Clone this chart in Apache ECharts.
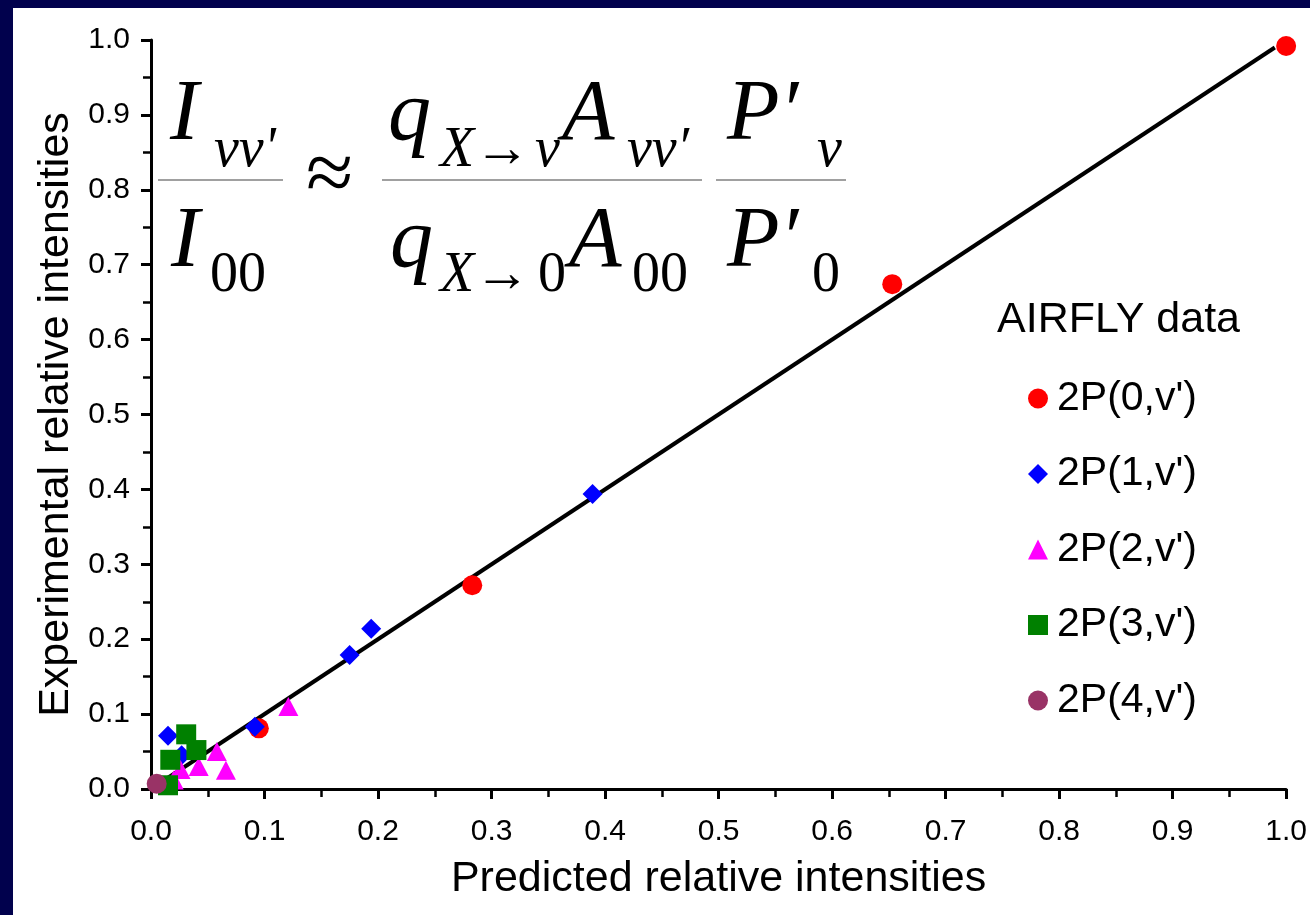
<!DOCTYPE html>
<html>
<head>
<meta charset="utf-8">
<script src="https://cdn.jsdelivr.net/npm/echarts@6/dist/echarts.min.js"></script>
<style>
  html, body { margin: 0; padding: 0; background: #01014d; }
  #chart { width: 1310px; height: 915px; }
</style>
</head>
<body>
<div id="chart"></div>
<script>
// AIRFLY data: predicted vs experimental relative intensities
let seriesNames = ["2P(0,v')", "2P(1,v')", "2P(2,v')", "2P(3,v')", "2P(4,v')"]

let p0x = [0.095, 0.283, 0.653, 1.0]
let p0y = [0.081, 0.272, 0.674, 0.992]

let p1x = [0.015, 0.027, 0.0915, 0.175, 0.194, 0.389]
let p1y = [0.071, 0.045, 0.083, 0.179, 0.214, 0.394]

let p2x = [0.020, 0.026, 0.042, 0.058, 0.066, 0.121]
let p2y = [0.012, 0.026, 0.030, 0.050, 0.025, 0.110]

let p3x = [0.015, 0.017, 0.031, 0.040]
let p3y = [0.005, 0.039, 0.073, 0.052]

let p4x = [0.005]
let p4y = [0.007]

// the 1:1 line
let fitLine = [[0, 0], [0.99, 0.99]]

let colors = ['#ff0000', '#0000ff', '#ff00ff', '#008000', '#993366']
let symbols = ['circle', 'diamond', 'triangle', 'rect', 'circle']

function pairs(xs, ys) {
    let out = []
    for (let i in xs) {
        out.push([xs[i], ys[i]])
    }
    return out
}

let allX = [p0x, p1x, p2x, p3x, p4x]
let allY = [p0y, p1y, p2y, p3y, p4y]

let seriesData = [{
    type: 'line',
    data: fitLine,
    showSymbol: false,
    silent: true,
    z: 1,
    lineStyle: { color: '#000', width: 4 }
}]
for (let i in seriesNames) {
    seriesData.push({
        name: seriesNames[i],
        type: 'scatter',
        data: pairs(allX[i], allY[i]),
        symbol: symbols[i],
        symbolSize: symbols[i] == 'triangle' ? [20, 19] : 20,
        z: 2 + Number(i),
        itemStyle: { color: colors[i], opacity: 1 }
    })
}

// formula pieces, drawn as text
const serif = '"Liberation Serif", "Times New Roman", serif'
function piece(text, x, y, size, italic) {
    return {
        type: 'text',
        x: x,
        y: y,
        style: {
            text: text,
            font: (italic ? 'italic ' : '') + size + 'px ' + serif,
            fill: '#000',
            textAlign: 'left', align: 'left',
            textVerticalAlign: 'middle', verticalAlign: 'middle'
        }
    }
}
function bar(x1, x2, y) {
    return {
        type: 'line',
        shape: { x1: x1, y1: y, x2: x2, y2: y },
        style: { stroke: '#808080', lineWidth: 1.5 }
    }
}

let big = 86, sub = 56
let formula = [
    piece('I', 170, 116, big, true),
    piece("vv'", 214, 151, sub, true),
    bar(158, 283, 180),
    piece('I', 171, 243, big, true),
    piece('00', 210, 276, sub, false),
    piece('≈', 306, 178, big, false),

    piece('q', 388, 116, big, true),
    piece('X', 440, 151, sub, true),
    piece('→', 474, 151, sub, false),
    piece('v', 535, 151, sub, true),
    piece('A', 562, 116, big, true),
    piece('vv′', 627, 151, sub, true),
    bar(382, 702, 180),
    piece('q', 390, 243, big, true),
    piece('X', 440, 276, sub, true),
    piece('→', 474, 276, sub, false),
    piece('0', 538, 276, sub, false),
    piece('A', 569, 243, big, true),
    piece('00', 632, 276, sub, false),

    piece('P′', 727, 116, big, true),
    piece('v', 817, 151, sub, true),
    bar(716, 846, 180),
    piece('P′', 727, 243, big, true),
    piece('0', 812, 276, sub, false)
]

const sans = '"Liberation Sans", Arial, sans-serif'
let graphics = [{
    type: 'rect',
    z: -100,
    silent: true,
    shape: { x: 13, y: 8, width: 1297, height: 907 },
    style: { fill: '#ffffff' }
}, {
    type: 'text',
    x: 997,
    y: 320,
    style: {
        text: 'AIRFLY data',
        font: '43px ' + sans,
        fill: '#000',
        textAlign: 'left', align: 'left',
        textVerticalAlign: 'middle', verticalAlign: 'middle'
    }
}].concat(formula)

function axisBase(name, gap, margin) {
    return {
        type: 'value',
        min: 0,
        max: 1,
        interval: 0.1,
        name: name,
        nameLocation: 'middle',
        nameGap: gap,
        nameTextStyle: { fontSize: 43, color: '#000', fontFamily: sans },
        axisLine: { show: true, onZero: false, lineStyle: { color: '#000', width: 3 } },
        axisTick: { show: true, inside: false, length: 10, lineStyle: { color: '#000', width: 3 } },
        minorTick: { show: true, splitNumber: 2, length: 8, lineStyle: { color: '#000', width: 2.5 } },
        splitLine: { show: false },
        minorSplitLine: { show: false },
        axisLabel: {
            fontSize: 30,
            color: '#000',
            fontFamily: sans,
            margin: margin,
            formatter: function (v) { return v.toFixed(1) }
        }
    }
}

var chart = echarts.init(document.getElementById('chart'))
chart.setOption({
    animation: false,
    backgroundColor: '#01014d',
    grid: { left: 151, right: 23, top: 40, bottom: 126 },
    xAxis: axisBase('Predicted relative intensities', 69, 28),
    yAxis: axisBase('Experimental relative intensities', 70, 21),
    legend: {
        data: seriesNames,
        orient: 'vertical',
        left: 1023,
        top: 373,
        itemWidth: 20,
        itemHeight: 20,
        itemGap: 34.5,
        textStyle: { fontSize: 41, color: '#000', fontFamily: sans, padding: [0, 0, 0, 4] }
    },
    graphic: graphics,
    series: seriesData
})
</script>
</body>
</html>
